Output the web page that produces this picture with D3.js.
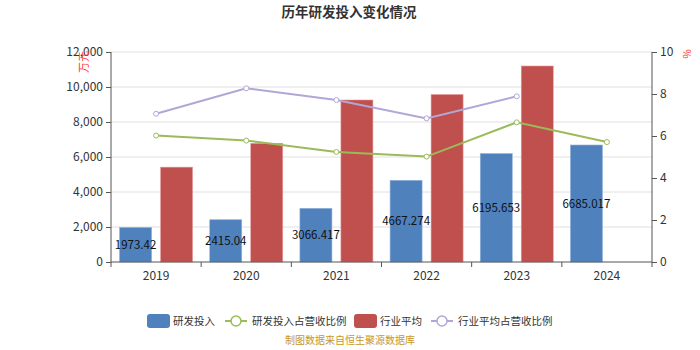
<!DOCTYPE html>
<html><head><meta charset="utf-8">
<script src="https://cdn.jsdelivr.net/npm/d3@7"></script>
<style>body{margin:0;background:#fff;}svg{display:block;font-family:"Noto Sans CJK SC","Noto Sans",sans-serif;}</style>
</head><body><svg id="c" width="700" height="350"></svg>
<script>
const categories = ["2019","2020","2021","2022","2023","2024"];
const rdInvest = [1973.42, 2415.04, 3066.417, 4667.274, 6195.653, 6685.017];
const rdLabels = ["1973.42","2415.04","3066.417","4667.274","6195.653","6685.017"];
const industryAvg = [5420, 6780, 9257, 9570, 11200, null];
const rdRatio = [6.02, 5.78, 5.24, 5.02, 6.65, 5.71];
const industryRatio = [7.06, 8.27, 7.71, 6.84, 7.89, null];
const leftTicks = [0,2000,4000,6000,8000,10000,12000];
const rightTicks = [0,2,4,6,8,10];

const C = {blue:"#4f81bd", red:"#c0504d", green:"#9bbb59", purple:"#b3a6d6"};
const svg = d3.select("#c");
const L = 111, R = 652, T = 52, B = 262;
const x = d3.scaleBand().domain(categories).range([L, R]);
const yL = d3.scaleLinear().domain([0,12000]).range([B, T]);
const yR = d3.scaleLinear().domain([0,10]).range([B, T]);

// grid
svg.append("g").selectAll("line").data(leftTicks.slice(1)).join("line")
  .attr("x1", L).attr("x2", R).attr("y1", d=>yL(d)).attr("y2", d=>yL(d))
  .attr("stroke", "#e0e0e0").attr("stroke-width", 1);

// bars
const bw = 32, gap = 9;
const g = svg.append("g");
g.selectAll(".b1").data(rdInvest).join("rect")
  .attr("x", (d,i)=>x(categories[i]) + x.bandwidth()/2 - gap/2 - bw)
  .attr("y", d=>yL(d)).attr("width", bw).attr("height", d=>B - yL(d))
  .attr("fill", C.blue).attr("stroke", "#8fb0dc").attr("stroke-width", 0.6);
g.selectAll(".b2").data(industryAvg.map((v,i)=>({v,i})).filter(d=>d.v!=null)).join("rect")
  .attr("x", d=>x(categories[d.i]) + x.bandwidth()/2 + gap/2)
  .attr("y", d=>yL(d.v)).attr("width", bw).attr("height", d=>B - yL(d.v))
  .attr("fill", C.red).attr("stroke", "#e39a98").attr("stroke-width", 0.6);

// axes
const axL = svg.append("g").attr("transform", `translate(${L},0)`)
  .call(d3.axisLeft(yL).tickValues(leftTicks).tickFormat(d3.format(",")).tickSize(5).tickPadding(3));
const axR = svg.append("g").attr("transform", `translate(${R},0)`)
  .call(d3.axisRight(yR).tickValues(rightTicks).tickSize(5).tickPadding(3));
const axX = svg.append("g").attr("transform", `translate(0,${B})`)
  .call(d3.axisBottom(x).tickSize(0).tickPadding(9));
axX.selectAll(".tick").append("line").attr("x1", -x.bandwidth()/2).attr("x2", -x.bandwidth()/2).attr("y2", 5).attr("stroke", "#555");
axX.append("line").attr("x1", R).attr("x2", R).attr("y2", 5).attr("stroke", "#555");
[axL, axR, axX].forEach(a=>{
  a.select(".domain").attr("stroke", "#555");
  a.selectAll(".tick line").attr("stroke", "#555");
  a.selectAll("text").attr("fill", "#333").style("font-size", "12px").style("font-family", '"Noto Sans CJK SC",sans-serif');
});
axL.select(".domain").attr("d", `M0,${B}V${T}`);
axR.select(".domain").attr("d", `M0,${B}V${T}`);
axX.select(".domain").attr("d", `M${L},0H${R}`);

// lines
function drawLine(vals, color) {
  const pts = vals.map((v,i)=>({v,i})).filter(d=>d.v!=null);
  svg.append("path").datum(pts)
    .attr("d", d3.line().x(d=>x(categories[d.i])+x.bandwidth()/2).y(d=>yR(d.v)))
    .attr("fill", "none").attr("stroke", color).attr("stroke-width", 2);
  svg.append("g").selectAll("circle").data(pts).join("circle")
    .attr("cx", d=>x(categories[d.i])+x.bandwidth()/2).attr("cy", d=>yR(d.v)).attr("r", 2.5)
    .attr("fill", "#fff").attr("stroke", color).attr("stroke-width", 1);
}
drawLine(industryRatio, C.purple);
drawLine(rdRatio, C.green);

// bar labels
svg.append("g").selectAll("text").data(rdInvest).join("text")
  .attr("x", (d,i)=>x(categories[i]) + x.bandwidth()/2 - gap/2 - bw/2)
  .attr("y", d=>(yL(d)+B)/2).attr("dy", "0.35em").attr("text-anchor", "middle")
  .attr("fill", "#111").style("font-size", "11.5px").text((d,i)=>rdLabels[i]);

// title
svg.append("text").attr("x", 349).attr("y", 17).attr("text-anchor", "middle")
  .attr("fill", "#333").style("font-size", "13.5px").style("font-weight", "bold").text("历年研发投入变化情况");

// unit labels
svg.append("text").attr("transform", "translate(84,62) rotate(-90)").attr("text-anchor", "middle").attr("dy", "0.35em")
  .attr("fill", "#ff3333").style("font-size", "11px").text("万元");
svg.append("text").attr("transform", "translate(687,54) rotate(-90)").attr("text-anchor", "middle").attr("dy", "0.35em")
  .attr("fill", "#ff3333").style("font-size", "10px").text("%");

// legend
const leg = svg.append("g");
const items = [
  {t:"研发投入", type:"bar", c:C.blue, x:147},
  {t:"研发投入占营收比例", type:"line", c:C.green, x:225},
  {t:"行业平均", type:"bar", c:C.red, x:354},
  {t:"行业平均占营收比例", type:"line", c:C.purple, x:431}
];
const ly = 321;
items.forEach(it=>{
  if (it.type === "bar") {
    leg.append("rect").attr("x", it.x).attr("y", ly-7).attr("width", 23).attr("height", 14).attr("rx", 3).attr("fill", it.c);
  } else {
    leg.append("line").attr("x1", it.x).attr("x2", it.x+22).attr("y1", ly).attr("y2", ly).attr("stroke", it.c).attr("stroke-width", 2);
    leg.append("circle").attr("cx", it.x+11).attr("cy", ly).attr("r", 5).attr("fill", "#fff").attr("stroke", it.c).attr("stroke-width", 1.5);
  }
  leg.append("text").attr("x", it.x+(it.type==="bar"?26:27)).attr("y", ly).attr("dy", "0.35em").attr("fill", "#333")
    .style("font-size", "10.5px").text(it.t);
});

// footer
svg.append("text").attr("x", 350).attr("y", 344).attr("text-anchor", "middle")
  .attr("fill", "#c8961e").style("font-size", "10px").text("制图数据来自恒生聚源数据库");
</script></body></html>
